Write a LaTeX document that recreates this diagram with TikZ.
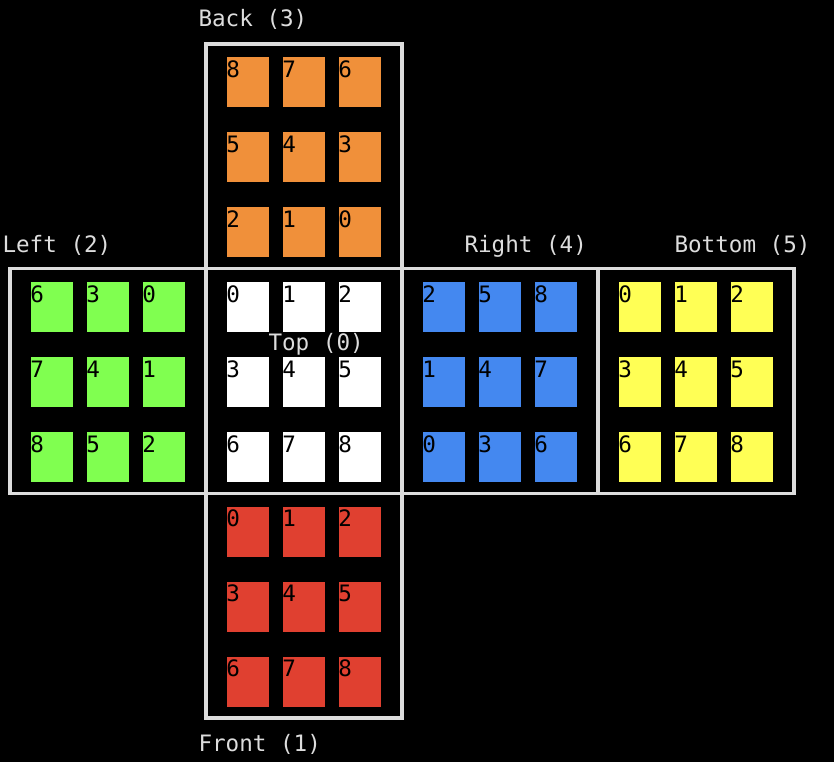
\documentclass[tikz,border=0pt]{standalone}
\usepackage{fontspec}
\newfontfamily\monofont{DejaVu Sans Mono}
\definecolor{edgegray}{HTML}{DDDDDD}
\definecolor{cOrange}{HTML}{F0903A}
\definecolor{cGreen}{HTML}{80FF50}
\definecolor{cBlue}{HTML}{4488F0}
\definecolor{cYellow}{HTML}{FFFF55}
\definecolor{cRed}{HTML}{E04030}
\tikzset{
  facebox/.style={draw=edgegray, line width=3.5pt, anchor=north west, outer sep=0pt, inner sep=0pt, minimum width=196pt, minimum height=224.7pt},
  sticker/.style={anchor=north west, outer sep=0pt, inner sep=0pt, minimum width=42pt, minimum height=50pt},
  digit/.style={anchor=base west, inner sep=0pt, outer sep=0pt, text=black, font=\monofont\fontsize{22.6}{26}\selectfont},
  facelabel/.style={anchor=base west, inner sep=0pt, outer sep=0pt, text=edgegray, font=\monofont\fontsize{22.6}{26}\selectfont}
}
\newcommand\cubeface[5]{%
  \node[facebox] (#1) at (#2,#3) {};
  \foreach \d [count=\i from 0] in {#5} {
    \pgfmathtruncatemacro\cc{mod(\i,3)}
    \pgfmathtruncatemacro\rr{div(\i,3)}
    \node[sticker, fill=#4] (#1-\i) at ({#2+21+56*\cc},{#3+13.3+75*\rr}) {};
    \node[digit] (#1-n\i) at ({#2+20.3+56*\cc},{#3+13.3+75*\rr+20}) {\d};
  }
}
\begin{document}
\begin{tikzpicture}[x=1pt,y=-1pt]
\fill[black] (0,0) rectangle (834,762);
\useasboundingbox (0,0) rectangle (834,762);
\cubeface{back}{206}{44}{cOrange}{8,7,6,5,4,3,2,1,0}
\cubeface{left}{10}{268.7}{cGreen}{6,3,0,7,4,1,8,5,2}
\cubeface{top}{206}{268.7}{white}{0,1,2,3,4,5,6,7,8}
\cubeface{right}{402}{268.7}{cBlue}{2,5,8,1,4,7,0,3,6}
\cubeface{bottom}{598}{268.7}{cYellow}{0,1,2,3,4,5,6,7,8}
\cubeface{front}{206}{493.4}{cRed}{0,1,2,3,4,5,6,7,8}
\node[facelabel] (lback) at (198.5,27) {Back (3)};
\node[facelabel] (lleft) at (2.5,252) {Left (2)};
\node[facelabel] (lright) at (464.5,252) {Right (4)};
\node[facelabel] (lbottom) at (674.5,252) {Bottom (5)};
\node[facelabel] (ltop) at (268.5,350.5) {Top (0)};
\node[facelabel] (lfront) at (198.5,751.5) {Front (1)};
\end{tikzpicture}
\end{document}
